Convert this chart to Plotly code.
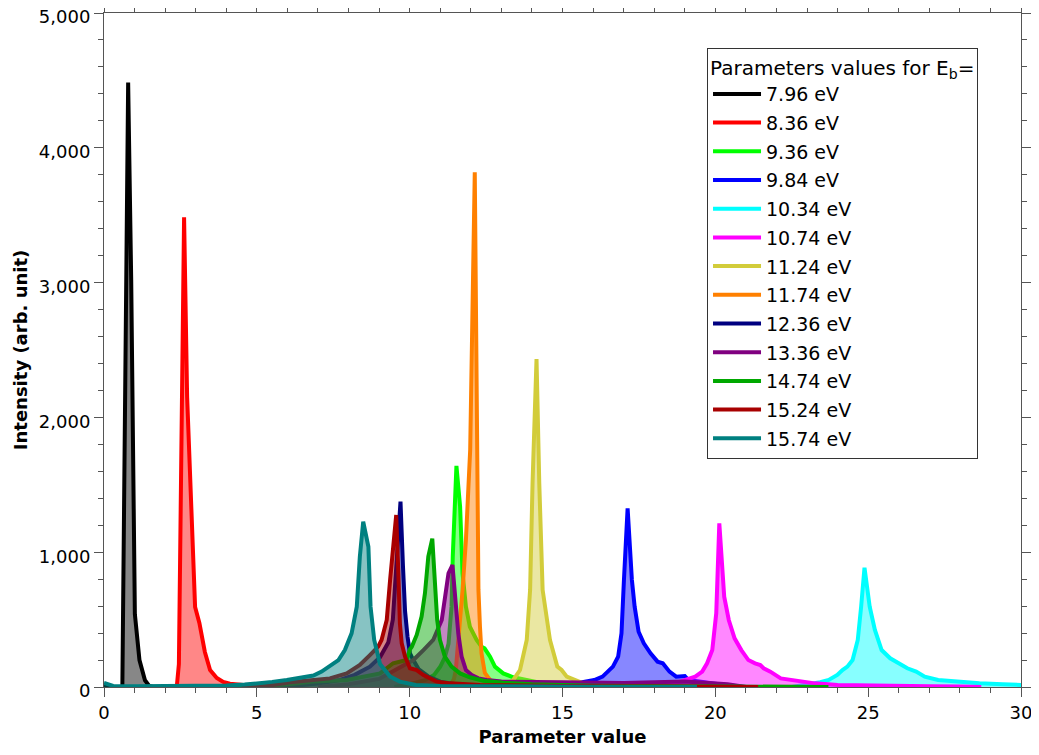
import plotly.graph_objects as go

# ---- data ----
labels = ["7.96 eV", "8.36 eV", "9.36 eV", "9.84 eV", "10.34 eV", "10.74 eV", "11.24 eV",
          "11.74 eV", "12.36 eV", "13.36 eV", "14.74 eV", "15.24 eV", "15.74 eV"]
colors = ["#000000", "#ff0000", "#00ff00", "#0000ff", "#00ffff", "#ff00ff", "#d2cc3a",
          "#ff8000", "#000080", "#800080", "#00a800", "#a80000", "#008080"]

X_796 = [0.0, 0.45, 0.60, 0.79, 0.89, 1.01, 1.16, 1.34, 1.48, 1.6]
Y_796 = [0, 0, 0, 4485, 3020, 540, 200, 50, 8, 0]

X_836 = [1.6, 2.2, 2.38, 2.45, 2.62, 2.72, 2.85, 2.98, 3.12, 3.30, 3.47, 3.69, 3.90, 4.12, 4.56, 5.0, 5.5]
Y_836 = [0, 0, 0, 170, 3485, 2150, 1320, 593, 475, 260, 126, 67, 37, 24, 15, 8, 0]

X_936 = [9.5, 10.0, 10.5, 10.8, 11.0, 11.15, 11.27, 11.37, 11.41, 11.53, 11.65, 11.73, 11.84, 11.97,
         12.19, 12.35, 12.45, 12.63, 12.79, 13.06, 13.39, 13.83, 14.26, 14.9, 15.5, 16.5]
Y_936 = [0, 20, 50, 90, 150, 220, 320, 596, 967, 1640, 1338, 843, 596, 447,
         349, 299, 287, 225, 151, 101, 72, 52, 32, 15, 8, 0]

X_984 = [14.5, 15.0, 15.42, 15.75, 16.04, 16.31, 16.48, 16.65, 16.82, 16.93, 17.01, 17.13, 17.27,
         17.36, 17.49, 17.66, 17.88, 18.11, 18.28, 18.5, 18.72, 19.0, 19.12, 19.45, 20.0, 20.5, 21.0]
Y_984 = [0, 10, 27, 40, 52, 77, 114, 151, 225, 398, 794, 1326, 794,
         596, 410, 324, 250, 188, 176, 114, 77, 82, 52, 40, 25, 12, 0]

X_1034 = [22.5, 23.0, 23.43, 23.71, 23.99, 24.16, 24.32, 24.49, 24.66, 24.77, 24.88, 25.05, 25.22,
          25.44, 25.72, 26.0, 26.28, 26.57, 26.85, 27.29, 27.85, 28.64, 29.4, 30.0]
Y_1034 = [0, 15, 35, 52, 89, 126, 151, 200, 349, 596, 885, 596, 423,
          274, 213, 176, 139, 114, 77, 52, 40, 27, 20, 15]

X_1074 = [17.5, 17.77, 18.67, 19.06, 19.34, 19.57, 19.73, 19.9, 20.03, 20.13, 20.29, 20.44, 20.63,
          20.85, 21.08, 21.3, 21.47, 21.58, 21.8, 22.14, 22.47, 22.81, 23.26, 24.0, 25.0, 26.0,
          27.0, 28.0, 28.7]
Y_1074 = [0, 15, 27, 52, 77, 114, 176, 274, 547, 1214, 670, 497, 361,
          274, 200, 176, 163, 139, 114, 64, 52, 40, 27, 15, 10, 8, 6, 4, 0]

X_1124 = [12.6, 13.0, 13.17, 13.39, 13.61, 13.72, 13.83, 13.94, 14.02, 14.15, 14.24, 14.35, 14.59,
          14.83, 14.97, 15.14, 15.41, 15.68, 16.0, 16.5]
Y_1124 = [0, 10, 27, 52, 126, 225, 349, 720, 1511, 2433, 1511, 720, 349,
          151, 126, 77, 52, 27, 10, 0]

X_1174 = [11.3, 11.45, 11.51, 11.56, 11.65, 11.73, 11.84, 11.98, 12.13, 12.19, 12.22, 12.25, 12.30,
          12.35, 12.46, 12.63, 12.9, 13.3]
Y_1174 = [0, 60, 126, 250, 447, 720, 1090, 1760, 3818, 1760, 1090, 720, 447,
          250, 104, 52, 20, 0]

X_1236 = [4.5, 5.5, 6.5, 7.0, 7.72, 8.2, 8.7, 9.03, 9.3, 9.45, 9.55, 9.70, 9.78, 9.85, 9.93,
          10.01, 10.12, 10.3, 10.6, 11.0, 11.5, 12.0, 13.0, 14.0]
Y_1236 = [0, 5, 15, 25, 52, 90, 151, 220, 330, 500, 900, 1375, 900, 560, 373,
          250, 200, 130, 80, 40, 20, 10, 3, 0]

X_1336 = [7.0, 8.0, 9.0, 9.68, 10.12, 10.45, 10.77, 11.05, 11.15, 11.27, 11.40, 11.51, 11.59,
          11.70, 11.84, 12.03, 12.25, 12.52, 13.0, 15.0, 17.0, 19.0, 20.4, 21.0]
Y_1336 = [0, 20, 60, 140, 200, 274, 349, 497, 645, 843, 905, 645, 398,
          225, 126, 89, 64, 52, 40, 35, 30, 40, 20, 0]

X_1474 = [1.4, 3.0, 5.0, 6.0, 6.85, 7.94, 9.03, 9.46, 9.90, 10.01, 10.07, 10.23, 10.39, 10.50,
          10.61, 10.74, 10.83, 10.90, 10.99, 11.15, 11.37, 11.65, 11.97, 12.41, 13.06, 14.0, 16.0,
          20.0, 23.7]
Y_1474 = [0, 2, 5, 20, 40, 52, 101, 176, 200, 280, 299, 386, 522, 695,
          967, 1100, 695, 497, 349, 225, 151, 101, 72, 47, 32, 20, 10,
          5, 0]

X_1524 = [4.5, 5.3, 6.08, 6.85, 7.39, 7.94, 8.37, 8.70, 8.97, 9.08, 9.25, 9.36, 9.46, 9.56,
          9.63, 9.68, 9.74, 9.85, 10.01, 10.23, 10.45, 10.66, 10.88, 11.32, 12.3, 15.0, 18.0, 21.4]
Y_1524 = [0, 7, 35, 52, 64, 101, 163, 237, 299, 349, 497, 794, 1040, 1276,
          843, 472, 324, 225, 139, 126, 89, 64, 40, 27, 15, 8, 4, 0]

X_1574 = [0.0, 0.3, 1.0, 2.0, 3.0, 4.0, 4.6, 5.1, 5.5, 5.98, 6.41, 6.85, 7.12, 7.39, 7.67, 7.88,
          8.10, 8.27, 8.37, 8.48, 8.65, 8.72, 8.84, 9.03, 9.36, 9.68, 10.2, 11.0, 13.0, 16.0, 19.4]
Y_1574 = [30, 8, 5, 6, 8, 12, 18, 27, 38, 52, 65, 85, 114, 160, 200, 274,
          398, 596, 967, 1226, 1040, 596, 349, 170, 77, 40, 15, 8, 4, 2, 0]

series_x = [X_796, X_836, X_936, X_984, X_1034, X_1074, X_1124, X_1174, X_1236, X_1336, X_1474, X_1524, X_1574]
series_y = [Y_796, Y_836, Y_936, Y_984, Y_1034, Y_1074, Y_1124, Y_1174, Y_1236, Y_1336, Y_1474, Y_1524, Y_1574]

x_ticks = [0, 5, 10, 15, 20, 25, 30]
y_ticks = [0, 1000, 2000, 3000, 4000, 5000]


def rgba(hex_color, a):
    h = hex_color.lstrip("#")
    r, g, b = int(h[0:2], 16), int(h[2:4], 16), int(h[4:6], 16)
    return f"rgba({r},{g},{b},{a})"


FONT = "DejaVu Sans"
fig = go.Figure()
for i, (lab, col, xs, ys) in enumerate(zip(labels, colors, series_x, series_y)):
    fig.add_trace(go.Scatter(x=xs, y=ys, mode="lines", line=dict(width=0),
                             fill="tozeroy", fillcolor=rgba(col, 0.47),
                             showlegend=False, hoverinfo="skip", legendgroup=f"g{i}"))
    fig.add_trace(go.Scatter(x=xs, y=ys, mode="lines", name=lab, legendgroup=f"g{i}",
                             line=dict(color=col, width=4)))

axis_common = dict(
    showline=True, linecolor="#555555", linewidth=1, mirror="ticks",
    ticks="outside", ticklen=9, tickwidth=1, tickcolor="#555555",
    showgrid=False, zeroline=False, automargin=False, ticklabeloverflow="allow",
    tickfont=dict(family=FONT, size=18, color="#000000"),
)

fig.update_xaxes(
    range=[0, 30], tickvals=x_ticks,
    minor=dict(dtick=1, tick0=0, ticklen=5, ticks="outside", tickcolor="#555555", showgrid=False),
    title=dict(text="Parameter value", font=dict(family=FONT, size=18, color="#000000", weight="bold"),
               standoff=8),
    **axis_common,
)
fig.update_yaxes(
    range=[0, 5000], tickvals=y_ticks, tickformat=",", ticklabelshift=4,
    minor=dict(dtick=200, tick0=0, ticklen=5, ticks="outside", tickcolor="#555555", showgrid=False),
    title=dict(text="Intensity (arb. unit)", font=dict(family=FONT, size=18, color="#000000", weight="bold"),
               standoff=6),
    **axis_common,
)

fig.update_layout(
    width=1039, height=755,
    margin=dict(l=96, r=26, t=5, b=76, autoexpand=False),
    plot_bgcolor="white", paper_bgcolor="white",
    font=dict(family=FONT, size=18, color="#000000"),
    legend=dict(
        x=0.6576, y=0.948, xanchor="left", yanchor="top",
        bordercolor="#333333", borderwidth=1, bgcolor="white",
        font=dict(family=FONT, size=19, color="#000000"),
        title=dict(text="Parameters values for E<sub>b</sub>=", font=dict(family=FONT, size=20)),
        tracegroupgap=1, itemwidth=48,
    ),
    showlegend=True,
)

fig.write_html("out.html")
